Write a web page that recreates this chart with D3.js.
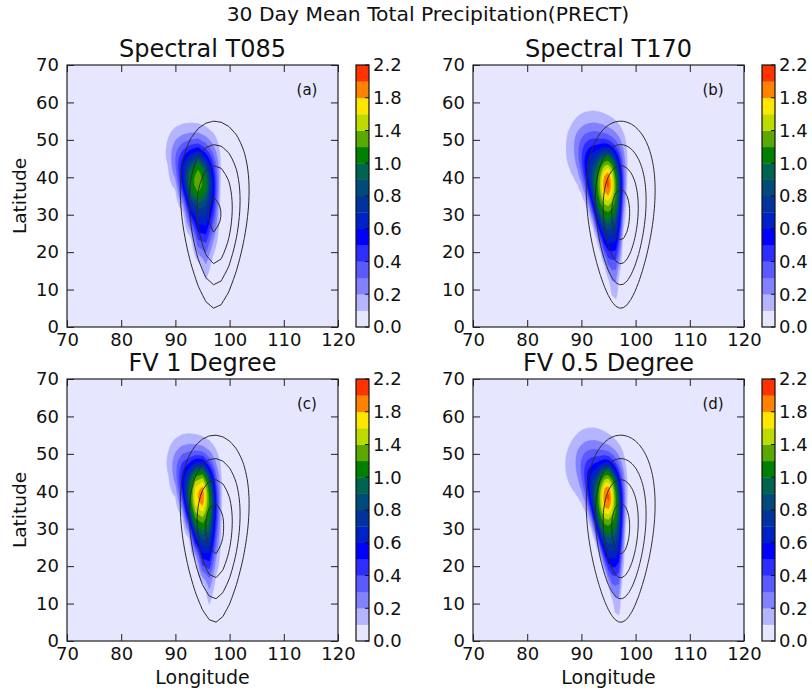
<!DOCTYPE html>
<html>
<head>
<meta charset="utf-8">
<script src="https://cdn.jsdelivr.net/npm/d3@7"></script>
<style>
  body { margin: 0; background: #fff; }
  text { font-family: "DejaVu Sans", sans-serif; fill: #111; }
</style>
</head>
<body>
<svg id="fig" width="812" height="692"></svg>
<script>
// ---- chart content ----
const figureTitle = "30 Day Mean Total Precipitation(PRECT)";
const panelTitles = ["Spectral T085", "Spectral T170", "FV 1 Degree", "FV 0.5 Degree"];
const panelTags = ["(a)", "(b)", "(c)", "(d)"];
const lonTicks = [70, 80, 90, 100, 110, 120];
const latTicks = [0, 10, 20, 30, 40, 50, 60, 70];
const precipLevels = [0, 0.1, 0.2, 0.3, 0.4, 0.5, 0.6, 0.7, 0.8, 0.9, 1.0, 1.2, 1.4, 1.6, 1.8, 2.0, 2.2];
const precipColors = ["#e6e6ff", "#b4b4ff", "#8282ff", "#5a5aff", "#2d2dff", "#0000ff", "#0020c8",
                      "#00349c", "#004a7c", "#006450", "#008000", "#5aa800", "#bcdc00", "#ffe600",
                      "#ff8200", "#ff3200"];
const colorbarTickLabels = ["0.0", "0.2", "0.4", "0.6", "0.8", "1.0", "1.4", "1.8", "2.2"];

// Model grid spacing of each run (degrees lon, degrees lat)
const gridLon = [1.40625, 0.703125, 1.25, 0.625];
const gridLat = [1.40625, 0.703125, 0.9424, 0.4712];

// Rain systems per run:
// [lon, lat, west width, east width, south width, north width, tilt, taper, peak, lon shape, lat shape]
const rainT085 = [
  [94.8, 36.0, 3.0, 2.3, 11.5, 8.0, -0.05, 0.03, 0.80, 4, 2],
  [94.2, 39.5, 1.1, 1.1, 3.5, 5.0, 0, 0, 0.55, 2, 2],
  [92.5, 45.0, 3.5, 2.5, 7.0, 6.0, 0, 0, 0.15, 2, 2]
];
const rainT170 = [
  [95.0, 35.0, 3.0, 2.2, 13.0, 9.0, -0.05, 0.03, 0.95, 4, 2],
  [94.8, 39.0, 1.0, 1.0, 5.0, 4.5, 0, 0, 1.10, 2, 2],
  [92.0, 47.0, 4.0, 2.8, 8.0, 7.0, 0, 0, 0.20, 2, 2]
];
const rainFV1 = [
  [95.2, 35.0, 2.8, 2.1, 12.0, 8.5, -0.06, 0.03, 0.95, 4, 2],
  [94.6, 39.7, 1.0, 1.0, 5.0, 4.5, 0, 0, 1.15, 2, 2],
  [92.3, 46.0, 3.3, 2.5, 7.0, 6.0, 0, 0, 0.16, 2, 2]
];
const rainFV05 = [
  [95.2, 34.5, 2.8, 2.1, 13.0, 8.5, -0.06, 0.03, 0.95, 4, 2],
  [94.8, 39.3, 1.0, 1.0, 5.0, 4.5, 0, 0, 1.15, 2, 2],
  [91.8, 47.0, 4.0, 2.8, 8.0, 7.0, 0, 0, 0.20, 2, 2]
];
const rainByPanel = [rainT085, rainT170, rainFV1, rainFV05];

// Reference vortex drawn as black line contours: centre, lon/lat half-axes, egg factor
const vortexCentre = [97.25, 30];
const vortexAxes = [6.1, 25, 0.012];
const vortexLevelsT085 = [0.19, 0.525, 0.75, 1.0];
const vortexLevelsOther = [0.27, 0.525, 0.75, 1.0];
const vortexLevelsByPanel = [vortexLevelsT085, vortexLevelsOther, vortexLevelsOther, vortexLevelsOther];

// ---- layout ----
const svg = d3.select("#fig");
const axW = 271, axH = 262;
const colLeft = [67, 473], rowTop = [65, 379];
const cbGap = 18, cbW = 13;
const lonMin = 70, lonMax = 120, latMin = 0, latMax = 70;

function rainAt(systems, lon, lat) {
  let v = 0;
  for (const [cx, cy, sxW, sxE, syS, syN, tilt, taper, amp, px, py] of systems) {
    const dy = lat - cy;
    const dx = lon - (cx + tilt * dy);
    const f = Math.min(1.5, Math.max(0.3, 1 + taper * dy));
    const ux = Math.abs(dx) / ((dx < 0 ? sxW : sxE) * f);
    const uy = Math.abs(dy) / (dy < 0 ? syS : syN);
    v += amp * Math.exp(-0.5 * (Math.pow(ux, px) + Math.pow(uy, py)));
  }
  return v;
}
function vortexAt(lon, lat) {
  const dy = lat - vortexCentre[1];
  const ax = vortexAxes[0] * (1 + vortexAxes[2] * dy);
  const dx = lon - vortexCentre[0];
  return -Math.hypot(dx / ax, dy / vortexAxes[1]);
}

// sample a field on a model grid that covers the map with one spare cell on each side
function modelGrid(dLon, dLat) {
  const gLon0 = Math.floor(lonMin / dLon) * dLon - dLon;
  const gLat0 = Math.floor(latMin / dLat) * dLat - dLat;
  const nx = Math.ceil((lonMax + dLon - gLon0) / dLon) + 1;
  const ny = Math.ceil((latMax + dLat - gLat0) / dLat) + 1;
  return { gLon0, gLat0, nx, ny, dLon, dLat,
    sample(fn) {
      const out = new Float64Array(nx * ny);
      for (let j = 0; j < ny; j++)
        for (let i = 0; i < nx; i++)
          out[j * nx + i] = fn(gLon0 + i * dLon, gLat0 + j * dLat);
      return out;
    } };
}

rainByPanel.forEach((systems, p) => {
  const col = p % 2, row = Math.floor(p / 2);
  const x0 = colLeft[col], y0 = rowTop[row];
  const x = d3.scaleLinear().domain([lonMin, lonMax]).range([0, axW]);
  const y = d3.scaleLinear().domain([latMin, latMax]).range([axH, 0]);
  const g = svg.append("g").attr("transform", `translate(${x0},${y0})`);

  const clipId = "clip" + p;
  g.append("clipPath").attr("id", clipId).append("rect").attr("width", axW).attr("height", axH);

  const mg = modelGrid(gridLon[p], gridLat[p]);
  const path = d3.geoPath(d3.geoTransform({
    point(gx, gy) {
      this.stream.point(x(mg.gLon0 + (gx - 0.5) * mg.dLon), y(mg.gLat0 + (gy - 0.5) * mg.dLat));
    }
  }));

  const plot = g.append("g").attr("clip-path", `url(#${clipId})`);
  plot.append("rect").attr("width", axW).attr("height", axH).attr("fill", precipColors[0]);

  const rain = mg.sample((lon, lat) => rainAt(systems, lon, lat));
  const bands = d3.contours().size([mg.nx, mg.ny]).thresholds(precipLevels.slice(1, -1))(rain);
  plot.selectAll("path.band").data(bands).join("path")
    .attr("class", "band")
    .attr("d", path)
    .attr("fill", d => precipColors[precipLevels.indexOf(d.value)])
    .attr("stroke", d => precipColors[precipLevels.indexOf(d.value)])
    .attr("stroke-width", 0.4);

  const vort = mg.sample(vortexAt);
  const rings = d3.contours().size([mg.nx, mg.ny]).thresholds(vortexLevelsByPanel[p].map(v => -v))(vort);
  plot.selectAll("path.ring").data(rings).join("path")
    .attr("class", "ring")
    .attr("d", path)
    .attr("fill", "none")
    .attr("stroke", "#2b2b2b")
    .attr("stroke-width", 1);

  // axes with inward ticks on all four sides
  const tick = 7;
  const bottom = g.append("g").attr("transform", `translate(0,${axH})`)
    .call(d3.axisBottom(x).tickValues(lonTicks).tickSize(-tick).tickPadding(6.5));
  const left = g.append("g")
    .call(d3.axisLeft(y).tickValues(latTicks).tickSize(-tick).tickPadding(8));
  const top = g.append("g").call(d3.axisTop(x).tickValues(lonTicks).tickSize(-tick).tickFormat(""));
  const right = g.append("g").attr("transform", `translate(${axW},0)`)
    .call(d3.axisRight(y).tickValues(latTicks).tickSize(-tick).tickFormat(""));
  [bottom, left, top, right].forEach(a => {
    a.select(".domain").remove();
    a.selectAll("line").attr("stroke", "#222");
    a.selectAll("text").style("font-size", "18px").attr("fill", "#111");
  });
  g.append("rect").attr("width", axW).attr("height", axH)
    .attr("fill", "none").attr("stroke", "#222").attr("stroke-width", 1.2);

  // titles and labels
  g.append("text").attr("x", axW / 2).attr("y", -8).attr("text-anchor", "middle")
    .style("font-size", "24px").text(panelTitles[p]);
  g.append("text").attr("x", axW - 31).attr("y", 30).attr("text-anchor", "middle")
    .style("font-size", "15px").text(panelTags[p]);
  if (col === 0) {
    g.append("text").attr("transform", `translate(${20 - x0},${axH / 2}) rotate(-90)`)
      .attr("text-anchor", "middle").attr("dy", "0.35em")
      .style("font-size", "18.5px").text("Latitude");
  }
  if (row === 1) {
    g.append("text").attr("x", axW / 2).attr("y", 684 - y0).attr("text-anchor", "middle")
      .style("font-size", "19px").text("Longitude");
  }

  // colour bar
  const cb = g.append("g").attr("transform", `translate(${axW + cbGap},0)`);
  const nb = precipColors.length;
  const cbY = d3.scaleLinear().domain([0, nb]).range([axH, 0]);
  cb.selectAll("rect.seg").data(precipColors).join("rect")
    .attr("class", "seg")
    .attr("x", 0).attr("width", cbW)
    .attr("y", (c, i) => cbY(i + 1)).attr("height", (c, i) => cbY(i) - cbY(i + 1) + 0.3)
    .attr("fill", c => c);
  cb.append("rect").attr("width", cbW).attr("height", axH)
    .attr("fill", "none").attr("stroke", "#111").attr("stroke-width", 1.2);
  const cbTicks = colorbarTickLabels.map(t => ({ t, pos: cbY(precipLevels.indexOf(+t)) }));
  cb.selectAll("line.cbt").data(cbTicks).join("line")
    .attr("class", "cbt")
    .attr("x1", cbW - 4).attr("x2", cbW).attr("y1", d => d.pos).attr("y2", d => d.pos)
    .attr("stroke", "#111");
  cb.selectAll("text.cbl").data(cbTicks).join("text")
    .attr("class", "cbl")
    .attr("x", cbW + 4).attr("y", d => d.pos).attr("dy", "0.36em")
    .style("font-size", "18px").text(d => d.t);
});

svg.append("text").attr("x", 428).attr("y", 21).attr("text-anchor", "middle")
  .style("font-size", "20.3px").text(figureTitle);
</script>
</body>
</html>
